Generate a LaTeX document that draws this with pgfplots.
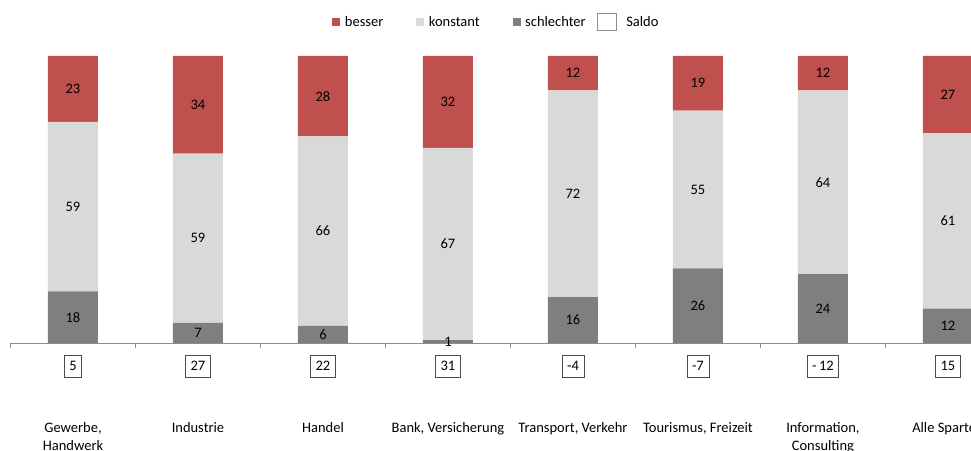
\documentclass[border=0pt]{standalone}
\usepackage{pgfplots}
\usepackage{pgfplotstable}
\pgfplotsset{compat=1.18}
\usepackage{fontspec}
\setmainfont{Carlito}

\definecolor{besser}{HTML}{C0504D}
\definecolor{konstant}{HTML}{D9D9D9}
\definecolor{schlechter}{HTML}{7F7F7F}
\definecolor{achse}{HTML}{8C8C8C}

% Anteile in Prozent, Saldo = besser - schlechter
\pgfplotstableread{
x s  k  b  saldo
0 18 59 23 5
1 7  59 34 27
2 6  66 28 22
3 1  67 32 31
4 16 72 12 -4
5 26 55 19 -7
6 24 64 12 -\,12
7 12 61 27 15
}\sparten

\pgfplotsset{
    anteil/.style={draw=none, mark=none, nodes near coords, point meta=explicit,
        every node near coord/.style={text=black, anchor=center}},
    quadrat/.style={legend image code/.code={
        \path[draw=none, fill=none] (0bp,0bp) rectangle (10.5bp,0.1bp);
        \fill[#1, draw=none] (0bp,-4bp) rectangle (8bp,4bp);}},
}

\begin{document}
\begin{tikzpicture}[x=1bp, y=1bp, font=\fontsize{14.5bp}{18bp}\selectfont]
\useasboundingbox (0,0) rectangle (971,451);
\clip (0,0) rectangle (971,451);
\begin{axis}[
    at={(10.5bp,108bp)}, anchor=south west,
    scale only axis, width=1000bp, height=287bp,
    ybar stacked, bar width=50bp,
    xmin=-0.5, xmax=7.5, ymin=0, ymax=100,
    axis x line*=bottom, axis y line=none,
    x axis line style={achse, line width=0.8bp},
    tick align=outside,
    xtick={0,...,7},
    xticklabels={{Gewerbe,\\Handwerk}, Industrie, Handel, {Bank, Versicherung},
        {Transport, Verkehr}, {Tourismus, Freizeit}, {Information,\\Consulting}, Alle Sparten},
    major tick length=0pt,
    minor xtick={-0.5,0.5,...,7.5},
    minor tick length=5bp,
    minor x tick style={achse, line width=0.8bp},
    xticklabel style={anchor=north, yshift=-76bp, align=center, text=black},
    clip=false,
    legend columns=4,
    legend cell align=left,
    legend style={at={(0.486,1.118)}, anchor=center, draw=none, fill=none,
        /tikz/every even column/.append style={column sep=31bp}},
]
    \addplot[fill=schlechter, draw=none, forget plot] table[x=x, y=s] {\sparten};
    \addplot[fill=konstant, draw=none, forget plot] table[x=x, y=k] {\sparten};
    \addplot[fill=besser, draw=none, forget plot] table[x=x, y=b] {\sparten};

    \addlegendimage{quadrat=besser}
    \addlegendentry{besser}
    \addlegendimage{quadrat=konstant}
    \addlegendentry{konstant}
    \addlegendimage{quadrat=schlechter}
    \addlegendentry{schlechter}
    \addlegendimage{legend image code/.code={
        \path[draw=none, fill=none] (0bp,0bp) rectangle (5.5bp,0.1bp);
        \draw[overlay, achse, fill=white, line width=0.8bp] (-21bp,-8.5bp) rectangle (-2bp,8.5bp);}}
    \addlegendentry{Saldo}
\end{axis}

\begin{axis}[
    at={(10.5bp,108bp)}, anchor=south west,
    scale only axis, width=1000bp, height=287bp,
    xmin=-0.5, xmax=7.5, ymin=0, ymax=100,
    hide axis, clip=false,
    /pgf/number format/assume math mode=true,
]
    % Werte mittig in den Segmenten
    \addplot[anteil] table[x=x, y expr=\thisrow{s}/2, meta=s] {\sparten};
    \addplot[anteil] table[x=x, y expr=\thisrow{s}+\thisrow{k}/2, meta=k] {\sparten};
    \addplot[anteil] table[x=x, y expr=\thisrow{s}+\thisrow{k}+\thisrow{b}/2, meta=b] {\sparten};

    % Saldo-Kaestchen unter der Achse
    \addplot[draw=none, mark=none, nodes near coords, point meta=explicit symbolic,
        every node near coord/.style={draw=black!70, line width=0.7bp, fill=white,
            text=black, anchor=center, inner xsep=5bp, inner ysep=3bp, minimum height=22bp}]
        table[x=x, y expr=-8, meta=saldo] {\sparten};
\end{axis}
\end{tikzpicture}
\end{document}
